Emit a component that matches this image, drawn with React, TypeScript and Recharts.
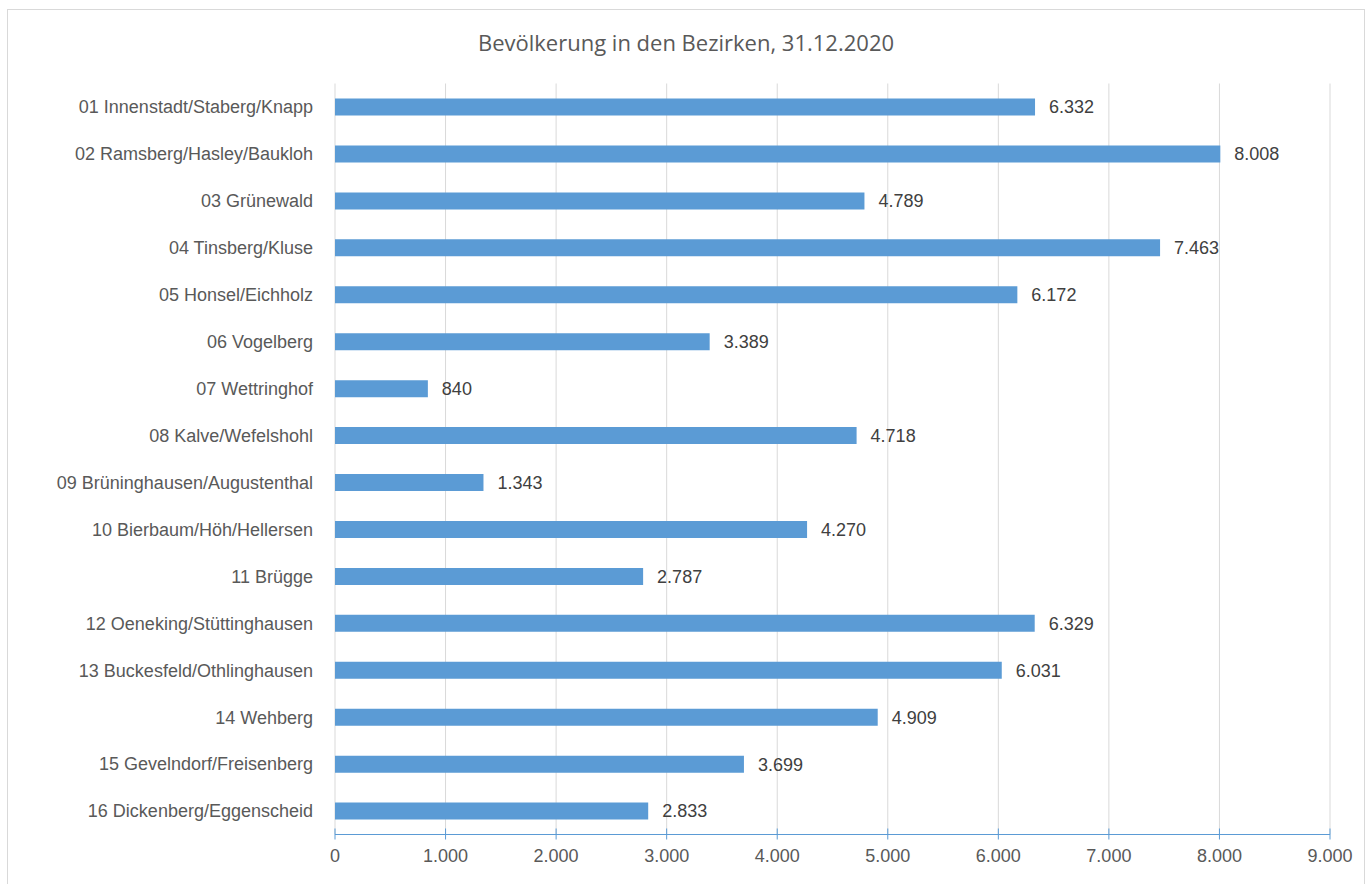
import React from 'react';
import { BarChart, Bar, XAxis, YAxis, CartesianGrid, LabelList } from 'recharts';

const districts = [
  '01 Innenstadt/Staberg/Knapp',
  '02 Ramsberg/Hasley/Baukloh',
  '03 Grünewald',
  '04 Tinsberg/Kluse',
  '05 Honsel/Eichholz',
  '06 Vogelberg',
  '07 Wettringhof',
  '08 Kalve/Wefelshohl',
  '09 Brüninghausen/Augustenthal',
  '10 Bierbaum/Höh/Hellersen',
  '11 Brügge',
  '12 Oeneking/Stüttinghausen',
  '13 Buckesfeld/Othlinghausen',
  '14 Wehberg',
  '15 Gevelndorf/Freisenberg',
  '16 Dickenberg/Eggenscheid',
];

const population = [6332, 8008, 4789, 7463, 6172, 3389, 840, 4718, 1343, 4270, 2787, 6329, 6031, 4909, 3699, 2833];

const xTicks = [0, 1000, 2000, 3000, 4000, 5000, 6000, 7000, 8000, 9000];

const title = 'Bevölkerung in den Bezirken, 31.12.2020';

const data = districts.map((name, i) => ({ name, value: population[i] }));

const fmt = (v: number) => String(Math.round(v)).replace(/\B(?=(\d{3})+(?!\d))/g, '.');

const FONT = '"Liberation Sans", Arial, sans-serif';

const XTick = (props: any) => {
  const { x, y, payload } = props;
  return (
    <g>
      <line x1={x} x2={x} y1={y - 6} y2={y + 5} stroke="#5b9bd5" strokeWidth={1} />
      <text x={x} y={y + 27.5} textAnchor="middle" fill="#595959" fontSize={18} fontFamily={FONT}>
        {fmt(payload.value)}
      </text>
    </g>
  );
};

export default function App() {
  return (
    <div style={{ position: 'absolute', left: 0, top: 0, width: 1372, height: 884, overflow: 'hidden', background: '#fff' }}>
      <div
        style={{
          position: 'absolute',
          left: 7,
          top: 9,
          width: 1358,
          height: 900,
          border: '1px solid #d9d9d9',
          boxSizing: 'border-box',
        }}
      />
      <div
        style={{
          position: 'absolute',
          left: 0,
          top: 27,
          width: 1372,
          textAlign: 'center',
          fontFamily: '"Open Sans", sans-serif',
          fontSize: 22,
          color: '#595959',
          lineHeight: '30px',
        }}
      >
        {title}
      </div>
      <div style={{ position: 'absolute', left: 0, top: 0 }}>
        <BarChart
          width={1372}
          height={884}
          data={data}
          layout="vertical"
          margin={{ top: 83.5, right: 42, bottom: 19.5, left: 35 }}
        >
          <CartesianGrid horizontal={false} vertical={true} stroke="#d9d9d9" strokeWidth={1} />
          <XAxis
            type="number"
            domain={[0, 9000]}
            ticks={xTicks}
            interval={0}
            height={30}
            axisLine={{ stroke: '#5b9bd5', strokeWidth: 1 }}
            tickLine={false}
            tickSize={0}
            tickMargin={0}
            tick={<XTick />}
          />
          <YAxis
            type="category"
            dataKey="name"
            width={300}
            axisLine={false}
            tickLine={false}
            tickSize={0}
            tickMargin={22}
            interval={0}
            tick={{ fill: '#595959', fontSize: 18, fontFamily: FONT }}
          />
          <Bar dataKey="value" fill="#5b9bd5" barSize={17} isAnimationActive={false}>
            <LabelList
              dataKey="value"
              position="right"
              offset={14}
              formatter={(v: any) => fmt(Number(v))}
              fill="#404040"
              fontSize={18}
              fontFamily={FONT}
            />
          </Bar>
        </BarChart>
      </div>
    </div>
  );
}
